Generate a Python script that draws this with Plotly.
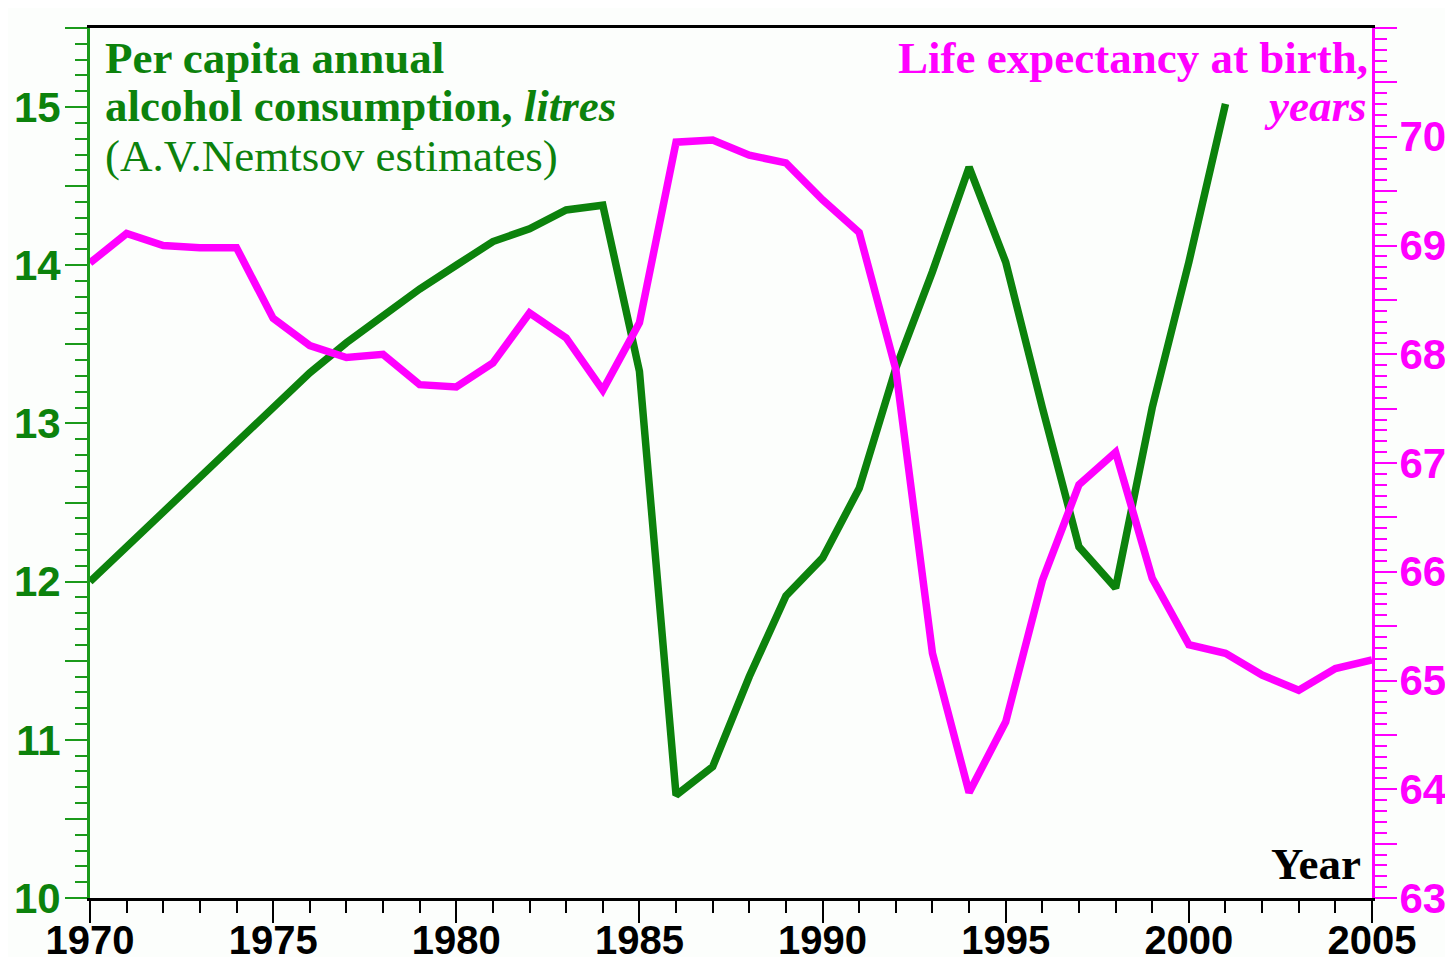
import plotly.graph_objects as go

years = list(range(1970, 2006))
alcohol_years = list(range(1970, 2002))
alcohol = [12.0, 12.22, 12.44, 12.66, 12.88, 13.1, 13.32, 13.51, 13.68, 13.85,
           14.0, 14.15, 14.23, 14.35, 14.38, 13.33, 10.65, 10.83, 11.4, 11.91,
           12.15, 12.59, 13.35, 13.96, 14.62, 14.02, 13.1, 12.22, 11.96, 13.1,
           14.02, 15.02]
life_exp = [68.84, 69.11, 69.0, 68.98, 68.98, 68.33, 68.08, 67.97, 68.0, 67.72,
            67.7, 67.92, 68.38, 68.15, 67.67, 68.29, 69.95, 69.97, 69.83, 69.76,
            69.42, 69.12, 67.86, 65.25, 63.97, 64.62, 65.92, 66.8, 67.1, 65.94,
            65.33, 65.25, 65.05, 64.91, 65.11, 65.19]

x_ticks = [1970, 1975, 1980, 1985, 1990, 1995, 2000, 2005]
left_ticks = [10, 10.5, 11, 11.5, 12, 12.5, 13, 13.5, 14, 14.5, 15, 15.5]
left_text = ["10", "", "11", "", "12", "", "13", "", "14", "", "15", ""]
right_ticks = [63, 63.5, 64, 64.5, 65, 65.5, 66, 66.5, 67, 67.5, 68, 68.5, 69, 69.5, 70, 70.5, 71]
right_text = ["63", "", "64", "", "65", "", "66", "", "67", "", "68", "", "69", "", "70", "", "71"]

GREEN = "#0c820c"
AXGREEN = "#1b9a1b"
MAG = "#ff00ff"
BG = "#fcfefc"

# page body has an 8px margin; figure sized to fit inside the window
OFF = 8
W, H = 1453 - 2 * OFF, 965 - 2 * OFF
PL, PR, PT, PB = 90, 1372, 28, 898  # target plot area in window pixels
L, R, T, B = PL - OFF, W + OFF - PR, PT - OFF, H + OFF - PB
pw, ph = PR - PL, PB - PT


def px(x):
    return (x - PL) / pw


def py(y):
    return (PB - y) / ph


fig = go.Figure()
fig.add_trace(go.Scatter(x=alcohol_years, y=alcohol, mode="lines",
                         line=dict(color=GREEN, width=7.5), yaxis="y"))
fig.add_trace(go.Scatter(x=years, y=life_exp, mode="lines",
                         line=dict(color=MAG, width=7.5), yaxis="y2"))

tickfont = dict(family="Liberation Sans, Arial", size=42, weight="bold")

fig.update_layout(
    width=W, height=H,
    margin=dict(l=L, r=R, t=T, b=B),
    paper_bgcolor=BG, plot_bgcolor=BG,
    showlegend=False,
    xaxis=dict(range=[1970, 2005], tickvals=x_ticks, ticks="outside",
               ticklen=22, tickwidth=2, tickcolor="black",
               ticklabelstandoff=-17,
               showline=True, linecolor="black", linewidth=3, mirror=True,
               showgrid=False, zeroline=False, automargin=False,
               tickfont=dict(color="black", family="Liberation Sans, Arial",
                             size=40, weight="bold"),
               minor=dict(dtick=1, ticks="outside", ticklen=12, tickwidth=2,
                          tickcolor="black", showgrid=False)),
    yaxis=dict(range=[10, 15.5], tickvals=left_ticks, ticktext=left_text,
               ticks="outside", ticklen=22, tickwidth=2, tickcolor=AXGREEN,
               ticklabelstandoff=-4,
               showline=True, linecolor=AXGREEN, linewidth=3,
               showgrid=False, zeroline=False, automargin=False,
               tickfont=dict(color=GREEN, **tickfont),
               minor=dict(dtick=0.1, ticks="outside", ticklen=12, tickwidth=2,
                          tickcolor=AXGREEN, showgrid=False)),
    yaxis2=dict(range=[63, 71], overlaying="y", side="right",
                tickvals=right_ticks, ticktext=right_text,
                ticks="outside", ticklen=22, tickwidth=2, tickcolor=MAG,
                ticklabelstandoff=-6,
                showline=True, linecolor=MAG, linewidth=3,
                showgrid=False, zeroline=False, automargin=False,
                tickfont=dict(color=MAG, **tickfont),
                minor=dict(dtick=0.1, ticks="outside", ticklen=12, tickwidth=2,
                           tickcolor=MAG, showgrid=False)),
)

serif = "Liberation Serif, Times New Roman"
FS = 45
ann = [
    dict(text="<b>Per capita annual</b>", x=px(104), y=py(58), xanchor="left",
         font=dict(family=serif, size=FS, color=GREEN)),
    dict(text="<b>alcohol consumption, <i>litres</i></b>", x=px(104), y=py(106), xanchor="left",
         font=dict(family=serif, size=FS, color=GREEN)),
    dict(text="(A.V.Nemtsov estimates)", x=px(104), y=py(156), xanchor="left",
         font=dict(family=serif, size=FS, color=GREEN)),
    dict(text="<b>Life expectancy at birth,</b>", x=px(1369), y=py(58), xanchor="right",
         font=dict(family=serif, size=FS, color=MAG)),
    dict(text="<b><i>years</i></b>", x=px(1367), y=py(106), xanchor="right",
         font=dict(family=serif, size=FS, color=MAG)),
    dict(text="<b>Year</b>", x=px(1362), y=py(864), xanchor="right",
         font=dict(family=serif, size=FS, color="black")),
]
for a in ann:
    fig.add_annotation(xref="paper", yref="paper", yanchor="middle",
                       showarrow=False, borderpad=0, **a)

fig.write_html("out.html")
